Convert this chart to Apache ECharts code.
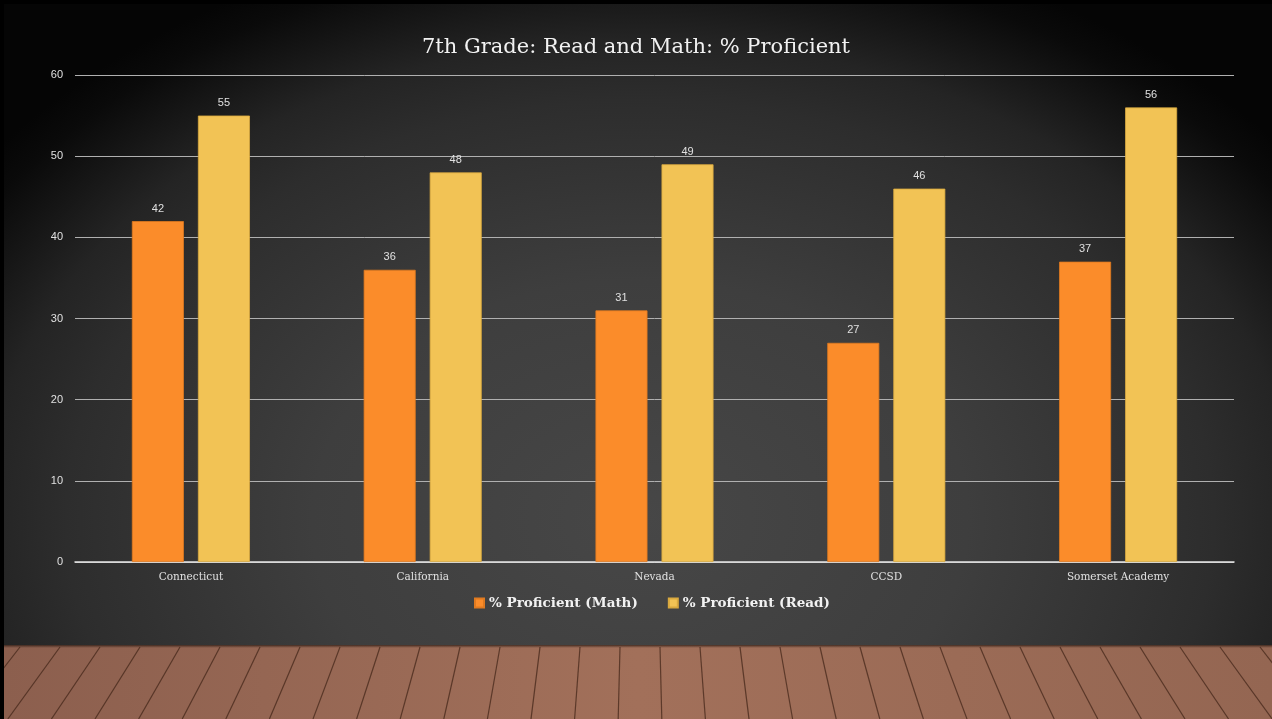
<!DOCTYPE html>
<html>
<head>
<meta charset="utf-8">
<title>7th Grade: Read and Math: % Proficient</title>
<script src="https://cdn.jsdelivr.net/npm/echarts@6/dist/echarts.min.js"></script>
<style>
  html, body { margin: 0; padding: 0; background: #000; }
  #chart { width: 1272px; height: 719px; }
</style>
</head>
<body>
<div id="chart"></div>
<script>
// Chart data
const categories = ['Connecticut', 'California', 'Nevada', 'CCSD', 'Somerset Academy'];
const mathProficient = [42, 36, 31, 27, 37];
const readProficient = [55, 48, 49, 46, 56];
const seriesNames = ['% Proficient (Math)', '% Proficient (Read)'];

const W = 1272, H = 719;
const floorTop = 645;

// Wooden floor: plank seams fanning out from a point above the centre
function floorPlanks() {
  const items = [];
  const cx = 640;
  for (let xt = -20; xt <= W + 40; xt += 40) {
    const dx = (xt - cx) * 0.09;
    items.push({
      type: 'line',
      shape: { x1: xt, y1: floorTop + 2, x2: xt + dx, y2: H },
      style: { stroke: 'rgba(62,34,22,0.7)', lineWidth: 1.2 },
      silent: true
    });
  }
  return items;
}

// Slide backdrop: elliptical glow, made from a square radial gradient stretched sideways
const glowRy = 600, glowRx = 820, glowCx = 640, glowCy = 520;

const chart = echarts.init(document.getElementById('chart'), null, { renderer: 'canvas' });

chart.setOption({
  backgroundColor: '#000',
  graphic: [
    {
      type: 'rect', z: -11, silent: true,
      shape: { x: 4, y: 4, width: W - 4, height: floorTop - 4 },
      style: { fill: '#050505' }
    },
    {
      type: 'group', z: -10, silent: true,
      clipPath: { type: 'rect', shape: { x: 4, y: 4, width: W - 4, height: floorTop - 4 } },
      children: [{
        type: 'rect',
        x: glowCx, y: glowCy,
        scaleX: glowRx / glowRy, scaleY: 1,
        shape: { x: -glowRy, y: -glowRy, width: glowRy * 2, height: glowRy * 2 },
        style: {
          fill: {
            type: 'radial', x: 0.5, y: 0.5, r: 0.5,
            colorStops: [
              { offset: 0, color: '#474747' },
              { offset: 0.4, color: '#3e3e3e' },
              { offset: 0.7, color: '#2d2d2d' },
              { offset: 0.8, color: '#242424' },
              { offset: 0.88, color: '#161616' },
              { offset: 0.95, color: '#0a0a0a' },
              { offset: 1, color: '#050505' }
            ]
          }
        }
      }]
    },
    {
      type: 'rect', z: -10, silent: true,
      shape: { x: 4, y: floorTop, width: W - 4, height: H - floorTop },
      style: {
        fill: {
          type: 'linear', x: 0, y: 0, x2: 1, y2: 0,
          colorStops: [
            { offset: 0, color: '#8c5f4e' },
            { offset: 0.5, color: '#a2705a' },
            { offset: 1, color: '#946652' }
          ]
        }
      }
    },
    {
      type: 'group', z: -9, silent: true,
      clipPath: { type: 'rect', shape: { x: 4, y: floorTop, width: W - 4, height: H - floorTop } },
      children: floorPlanks()
    },
    {
      type: 'rect', z: -8, silent: true,
      shape: { x: 4, y: floorTop - 1, width: W - 4, height: 4 },
      style: {
        fill: {
          type: 'linear', x: 0, y: 0, x2: 0, y2: 1,
          colorStops: [
            { offset: 0, color: '#1a100a' },
            { offset: 1, color: 'rgba(60,35,25,0)' }
          ]
        }
      }
    }
  ],
  title: {
    text: '7th Grade: Read and Math: % Proficient',
    left: 'center',
    top: 32,
    textStyle: {
      color: '#f2f2f2',
      fontFamily: 'DejaVu Serif',
      fontWeight: 'normal',
      fontSize: 21
    }
  },
  legend: {
    data: seriesNames,
    bottom: 104,
    left: 469,
    itemWidth: 9,
    itemHeight: 9,
    itemGap: 30,
    icon: 'rect',
    textStyle: {
      color: '#f2f2f2',
      fontFamily: 'DejaVu Serif',
      fontWeight: 'bold',
      fontSize: 13.5
    }
  },
  grid: {
    left: 75,
    right: 38,
    top: 75,
    bottom: 157,
    containLabel: false
  },
  xAxis: {
    type: 'category',
    data: categories,
    axisTick: { show: false },
    axisLine: { lineStyle: { color: '#e6e6e6', width: 1.5 } },
    axisLabel: {
      color: '#e0e0e0',
      fontFamily: 'DejaVu Serif',
      fontSize: 10.5,
      margin: 10
    }
  },
  yAxis: {
    type: 'value',
    min: 0,
    max: 60,
    interval: 10,
    axisLine: { show: false },
    axisTick: { show: false },
    axisLabel: {
      color: '#e0e0e0',
      fontFamily: 'Liberation Sans',
      fontSize: 11,
      margin: 12
    },
    splitLine: { lineStyle: { color: '#b0b0b0', width: 1 } }
  },
  series: [
    {
      name: seriesNames[0],
      type: 'bar',
      data: mathProficient,
      barWidth: 52,
      barGap: '27%',
      itemStyle: { color: '#fb8c2a', borderColor: '#e07a20', borderWidth: 0.8 },
      label: {
        show: true,
        position: 'top',
        distance: 7,
        color: '#e0e0e0',
        fontFamily: 'Liberation Sans',
        fontSize: 11
      }
    },
    {
      name: seriesNames[1],
      type: 'bar',
      data: readProficient,
      barWidth: 52,
      itemStyle: { color: '#f2c355', borderColor: '#d9a93f', borderWidth: 0.8 },
      label: {
        show: true,
        position: 'top',
        distance: 7,
        color: '#e0e0e0',
        fontFamily: 'Liberation Sans',
        fontSize: 11
      }
    }
  ]
});
</script>
</body>
</html>
